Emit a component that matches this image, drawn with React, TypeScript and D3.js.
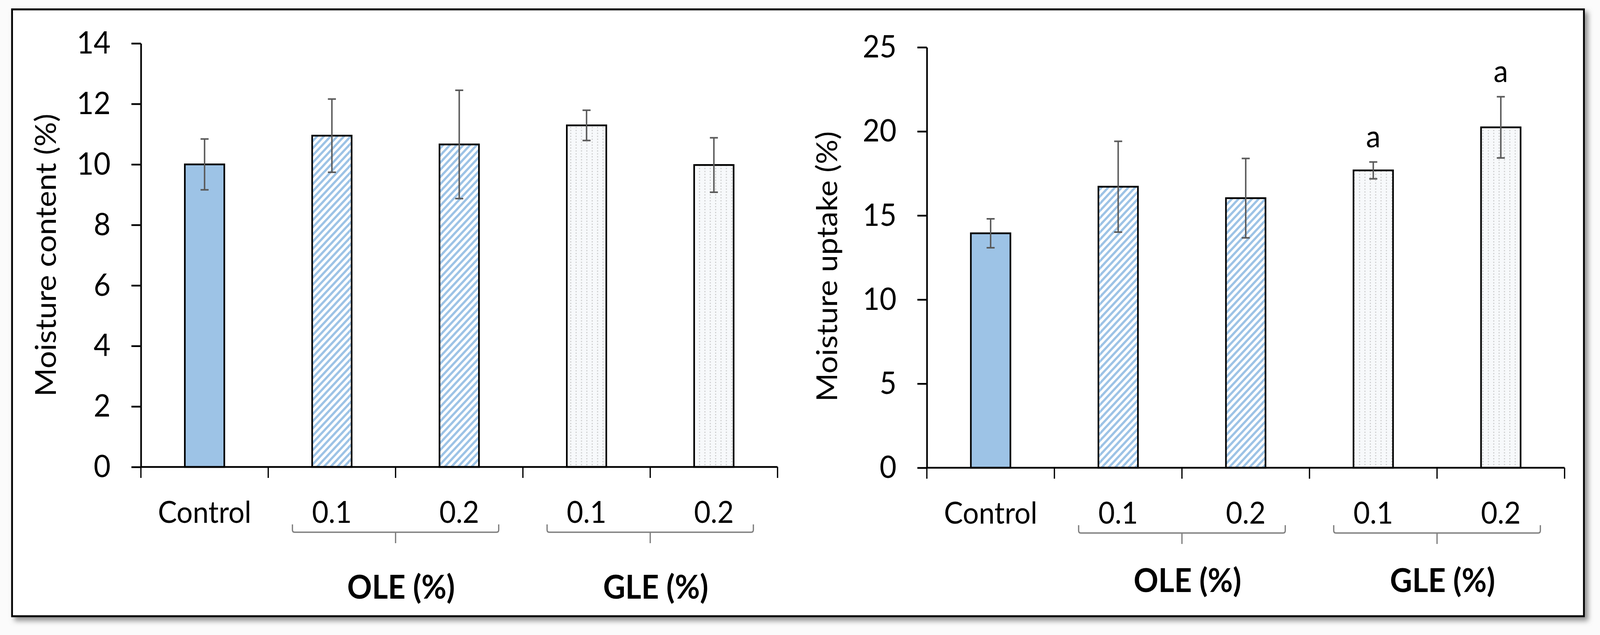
import { useEffect, useRef } from 'react'
import * as d3 from 'd3'

// categories along the x axis (two panels share them)
const categories = ['Control', '0.1', '0.2', '0.1', '0.2']
const fillKinds = ['solid', 'hatch', 'hatch', 'dots', 'dots']

// left panel: moisture content (%)
const contentMeans = [10.0, 10.95, 10.66, 11.29, 9.98]
const contentErrors = [0.84, 1.21, 1.79, 0.5, 0.9]
const contentTicks = [0, 2, 4, 6, 8, 10, 12, 14]
const contentLetters = ['', '', '', '', '']

// right panel: moisture uptake (%)
const uptakeMeans = [13.94, 16.71, 16.03, 17.68, 20.24]
const uptakeErrors = [0.86, 2.7, 2.36, 0.5, 1.82]
const uptakeTicks = [0, 5, 10, 15, 20, 25]
const uptakeLetters = ['', '', '', 'a', 'a']

const groups = [
  { label: 'OLE (%)', first: 1, last: 2 },
  { label: 'GLE (%)', first: 3, last: 4 },
]

const W = 4383
const H = 1625
const FONT = 'Lato, "Open Sans", sans-serif'
const BAR_BLUE = '#9dc3e6'

interface Panel {
  title: string
  means: number[]
  errors: number[]
  ticks: number[]
  letters: string[]
  x0: number
  x1: number
  yTop: number
  yBottom: number
  titleX: number
  titleY: number
  groupLabelDy: number
}

const panels: Panel[] = [
  {
    title: 'Moisture content (%)',
    means: contentMeans,
    errors: contentErrors,
    ticks: contentTicks,
    letters: contentLetters,
    x0: 386,
    x1: 2130,
    yTop: 111,
    yBottom: 1195,
    titleX: 153,
    titleY: 653,
    groupLabelDy: 337,
  },
  {
    title: 'Moisture uptake (%)',
    means: uptakeMeans,
    errors: uptakeErrors,
    ticks: uptakeTicks,
    letters: uptakeLetters,
    x0: 2539,
    x1: 4286,
    yTop: 121,
    yBottom: 1197,
    titleX: 2293,
    titleY: 682,
    groupLabelDy: 318,
  },
]

const App = () => {
  const svgRef = useRef<SVGSVGElement | null>(null)

  useEffect(() => {
    const svg = d3.select(svgRef.current)
    svg.selectAll('*').remove()

    const defs = svg.append('defs')

    const shadow = defs
      .append('filter')
      .attr('id', 'frame-shadow')
      .attr('x', '-5%')
      .attr('y', '-5%')
      .attr('width', '110%')
      .attr('height', '110%')
    shadow
      .append('feDropShadow')
      .attr('dx', 9)
      .attr('dy', 9)
      .attr('stdDeviation', 7)
      .attr('flood-color', '#7a7a7a')
      .attr('flood-opacity', 0.85)

    // diagonal stripes for OLE
    const hatch = defs
      .append('pattern')
      .attr('id', 'hatch')
      .attr('patternUnits', 'userSpaceOnUse')
      .attr('width', 13)
      .attr('height', 13)
      .attr('patternTransform', 'rotate(45)')
    hatch.append('rect').attr('width', 13).attr('height', 13).attr('fill', '#ffffff')
    hatch.append('rect').attr('width', 6).attr('height', 13).attr('fill', BAR_BLUE)

    // fine dots for GLE
    const dots = defs
      .append('pattern')
      .attr('id', 'dots')
      .attr('patternUnits', 'userSpaceOnUse')
      .attr('width', 14.7)
      .attr('height', 7.5)
    dots.append('rect').attr('width', 14.7).attr('height', 7.5).attr('fill', '#f7f9fb')
    dots.append('rect').attr('x', 4).attr('y', 2.5).attr('width', 2.6).attr('height', 2.6).attr('fill', '#bcbcbc')

    const fillFor = (k: string) => (k === 'solid' ? BAR_BLUE : k === 'hatch' ? 'url(#hatch)' : 'url(#dots)')

    svg.append('rect').attr('width', W).attr('height', H).attr('fill', '#fbfbfb')

    svg
      .append('rect')
      .attr('x', 33)
      .attr('y', 24)
      .attr('width', 4306)
      .attr('height', 1553)
      .attr('fill', '#ffffff')
      .attr('stroke', '#000')
      .attr('stroke-width', 5)
      .attr('filter', 'url(#frame-shadow)')

    panels.forEach((p) => {
      const g = svg.append('g')

      const x = d3
        .scaleBand<number>()
        .domain(d3.range(categories.length))
        .range([p.x0, p.x1])
        .padding(0)

      const y = d3
        .scaleLinear()
        .domain([0, p.ticks[p.ticks.length - 1]])
        .range([p.yBottom, p.yTop])

      const bw = x.bandwidth() * 0.31
      const cx = (i: number) => x(i)! + x.bandwidth() / 2

      // y axis
      const yAxis = d3
        .axisLeft(y)
        .tickValues(p.ticks)
        .tickSize(26)
        .tickSizeOuter(0)
        .tickPadding(57)
        .tickFormat(d3.format('d'))

      const yg = g.append('g').attr('transform', `translate(${p.x0},0)`).call(yAxis)
      yg.select('.domain').attr('stroke', '#000').attr('stroke-width', 4.5)
      yg.selectAll('.tick line').attr('stroke', '#000').attr('stroke-width', 4.5)
      yg.selectAll('.tick text')
        .attr('fill', '#000')
        .attr('font-family', FONT)
        .attr('font-size', 80)

      // bars
      g.selectAll('rect.bar')
        .data(p.means)
        .join('rect')
        .attr('class', 'bar')
        .attr('x', (_, i) => cx(i) - bw / 2)
        .attr('y', (d) => y(d))
        .attr('width', bw)
        .attr('height', (d) => y(0) - y(d))
        .attr('fill', (_, i) => fillFor(fillKinds[i]))
        .attr('stroke', '#000')
        .attr('stroke-width', 4.5)

      // error bars
      const eb = g
        .selectAll('g.err')
        .data(p.means)
        .join('g')
        .attr('class', 'err')
        .attr('stroke', '#595959')
        .attr('stroke-width', 4)
      eb.append('line')
        .attr('x1', (_, i) => cx(i))
        .attr('x2', (_, i) => cx(i))
        .attr('y1', (d, i) => y(d + p.errors[i]))
        .attr('y2', (d, i) => y(d - p.errors[i]))
      eb.append('line')
        .attr('x1', (_, i) => cx(i) - 11)
        .attr('x2', (_, i) => cx(i) + 11)
        .attr('y1', (d, i) => y(d + p.errors[i]))
        .attr('y2', (d, i) => y(d + p.errors[i]))
      eb.append('line')
        .attr('x1', (_, i) => cx(i) - 11)
        .attr('x2', (_, i) => cx(i) + 11)
        .attr('y1', (d, i) => y(d - p.errors[i]))
        .attr('y2', (d, i) => y(d - p.errors[i]))

      // significance letters
      g.selectAll('text.letter')
        .data(p.letters)
        .join('text')
        .attr('class', 'letter')
        .attr('x', (_, i) => cx(i))
        .attr('y', (_, i) => y(p.means[i] + p.errors[i]) - 38)
        .attr('text-anchor', 'middle')
        .attr('font-family', FONT)
        .attr('font-size', 80)
        .attr('fill', '#000')
        .text((d) => d)

      // x axis line and boundary ticks
      const bounds = categories.map((_, i) => x(i)!).concat(x.range()[1])
      g.append('line')
        .attr('x1', p.x0)
        .attr('x2', p.x1)
        .attr('y1', y(0))
        .attr('y2', y(0))
        .attr('stroke', '#000')
        .attr('stroke-width', 4.5)
      g.selectAll('line.xtick')
        .data(bounds)
        .join('line')
        .attr('class', 'xtick')
        .attr('x1', (d) => d)
        .attr('x2', (d) => d)
        .attr('y1', y(0))
        .attr('y2', y(0) + 28)
        .attr('stroke', '#000')
        .attr('stroke-width', 3.5)

      // category labels
      g.selectAll('text.cat')
        .data(categories)
        .join('text')
        .attr('class', 'cat')
        .attr('x', (_, i) => cx(i))
        .attr('y', y(0) + 143)
        .attr('text-anchor', 'middle')
        .attr('font-family', FONT)
        .attr('font-size', 78)
        .attr('fill', '#000')
        .text((d) => d)

      // group brackets
      const base = y(0)
      groups.forEach((gr) => {
        const xl = cx(gr.first) - bw
        const xr = cx(gr.last) + bw
        const mid = (xl + xr) / 2
        const yt = base + 147
        const yh = base + 167
        const r = 6
        g.append('path')
          .attr(
            'd',
            `M${xl},${yt}V${yh - r}Q${xl},${yh} ${xl + r},${yh}H${xr - r}Q${xr},${yh} ${xr},${yh - r}V${yt}M${mid},${yh}V${base + 195}`
          )
          .attr('fill', 'none')
          .attr('stroke', '#7f7f7f')
          .attr('stroke-width', 3.5)
        g.append('text')
          .attr('x', mid + 15)
          .attr('y', base + p.groupLabelDy)
          .attr('text-anchor', 'middle')
          .attr('font-family', FONT)
          .attr('font-weight', 'bold')
          .attr('font-size', 84)
          .attr('fill', '#000')
          .text(gr.label)
      })

      // y axis title
      g.append('text')
        .attr('transform', `translate(${p.titleX},${p.titleY}) rotate(-90)`)
        .attr('text-anchor', 'middle')
        .attr('font-family', FONT)
        .attr('font-size', 79)
        .attr('fill', '#000')
        .text(p.title)
    })
  }, [])

  // fill the whole viewport so the drawing is never cut at the window's edge
  return (
    <svg
      ref={svgRef}
      viewBox={`0 0 ${W} ${H}`}
      preserveAspectRatio="none"
      style={{ position: 'fixed', left: 0, top: 0, width: '100vw', height: '100vh', display: 'block' }}
    />
  )
}

export default App
